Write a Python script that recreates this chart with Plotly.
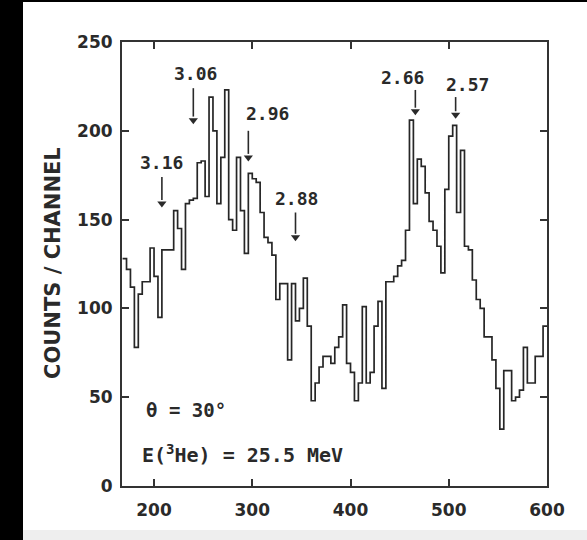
import numpy as np
import plotly.graph_objects as go

# ---- data -------------------------------------------------------------
channel_start = 168
bin_width = 4
counts = [128, 122, 112, 78, 108, 115, 115, 134, 118, 95,
          133, 133, 133, 155, 145, 122, 159, 161, 162, 182,
          183, 163, 219, 200, 159, 185, 223, 150, 144, 185,
          155, 131, 176, 173, 171, 154, 140, 137, 130, 105,
          114, 114, 71, 114, 93, 100, 117, 90, 48, 58,
          67, 73, 73, 69, 78, 84, 102, 69, 64, 48,
          58, 101, 58, 64, 90, 104, 55, 115, 115, 118,
          124, 127, 144, 206, 159, 184, 180, 165, 149, 144,
          135, 120, 167, 197, 203, 154, 189, 135, 133, 116,
          105, 100, 84, 84, 71, 55, 32, 65, 65, 48,
          50, 54, 78, 58, 58, 73, 73, 90]

peak_labels = ["3.16", "3.06", "2.96", "2.88", "2.66", "2.57"]
label_x = [208, 242, 315, 345, 453, 519]
label_y = [182, 232, 210, 162, 230, 226]
arrow_x = [208, 240, 296, 344, 466, 507]
arrow_tail = [174, 224, 200, 154, 223, 219]
arrow_tip = [159, 206, 185, 140, 211, 209]

x_ticks = [200, 300, 400, 500, 600]
y_ticks = [0, 50, 100, 150, 200, 250]

# ---- figure -------------------------------------------------------------
edges = channel_start + bin_width * np.arange(len(counts) + 1)
yvals = counts + [counts[-1]]

W, H = 587, 540
ML, MR, MT, MB = 122, 40, 42, 54
PW, PH = W - ML - MR, H - MT - MB
ink = "#2a2a2a"

fig = go.Figure()
fig.add_trace(go.Scatter(x=edges, y=yvals, mode="lines", line_shape="hv",
                         line=dict(color="#262626", width=1.7),
                         hoverinfo="skip", showlegend=False))

# arrow shafts
shaft_x, shaft_y = [], []
for axx, tail, tip in zip(arrow_x, arrow_tail, arrow_tip):
    shaft_x += [axx, axx, None]
    shaft_y += [tail, tip + 2, None]
fig.add_trace(go.Scatter(x=shaft_x, y=shaft_y, mode="lines",
                         line=dict(color=ink, width=1.6),
                         hoverinfo="skip", showlegend=False))
# arrow heads
fig.add_trace(go.Scatter(x=arrow_x, y=arrow_tip, mode="markers",
                         marker=dict(symbol="triangle-down", size=8, color=ink,
                                     line_width=0),
                         hoverinfo="skip", showlegend=False))

for t, lx, ly in zip(peak_labels, label_x, label_y):
    fig.add_annotation(x=lx, y=ly, text=t, showarrow=False,
                       font=dict(family="DejaVu Sans Mono", size=18, color=ink,
                                 weight="bold"),
                       xanchor="center", yanchor="middle")

fig.add_annotation(xref="paper", yref="paper",
                   x=(186 - ML) / PW, y=(H - MB - 410) / PH,
                   text="θ = 30°", showarrow=False,
                   font=dict(family="DejaVu Sans Mono", size=19, color=ink,
                             weight="bold"),
                   xanchor="center", yanchor="middle")
fig.add_annotation(xref="paper", yref="paper",
                   x=(140 - ML) / PW, y=(H - MB - 454) / PH,
                   text="E(<sup>3</sup>He) = 25.5 MeV", showarrow=False,
                   font=dict(family="DejaVu Sans Mono", size=20, color=ink,
                             weight="bold"),
                   xanchor="left", yanchor="middle")
fig.add_annotation(xref="paper", yref="paper",
                   x=(53 - ML) / PW, y=(H - MB - 263) / PH,
                   text="COUNTS / CHANNEL", textangle=-90, showarrow=False,
                   font=dict(family="DejaVu Sans", size=21, color=ink, weight="bold"),
                   xanchor="center", yanchor="middle")

# scan border strips
fig.add_shape(type="rect", xref="paper", yref="paper",
              x0=(0 - ML) / PW, x1=(23 - ML) / PW,
              y0=(H - MB - H) / PH, y1=(H - MB) / PH,
              fillcolor="black", line_width=0, layer="above")
fig.add_shape(type="rect", xref="paper", yref="paper",
              x0=(0 - ML) / PW, x1=(W - ML) / PW,
              y0=(H - MB - 2) / PH, y1=(H - MB) / PH,
              fillcolor="black", line_width=0, layer="above")
fig.add_shape(type="rect", xref="paper", yref="paper",
              x0=(23 - ML) / PW, x1=(W - ML) / PW,
              y0=(H - MB - H) / PH, y1=(H - MB - 530) / PH,
              fillcolor="#eeeeee", line_width=0, layer="above")

axis_font = dict(family="DejaVu Sans", size=17, color=ink, weight="bold")
fig.update_xaxes(range=[167.4, 600], tickvals=x_ticks, ticks="inside",
                 ticklen=7, tickwidth=2, tickcolor="#333",
                 showline=True, linecolor="#333", linewidth=2, mirror="ticks",
                 showgrid=False, zeroline=False, tickfont=axis_font,
                 ticklabelstandoff=8)
fig.update_yaxes(range=[0, 250], tickvals=y_ticks, ticks="inside",
                 ticklen=7, tickwidth=2, tickcolor="#333",
                 showline=True, linecolor="#333", linewidth=2, mirror="ticks",
                 showgrid=False, zeroline=False, tickfont=axis_font,
                 ticklabelstandoff=4)

fig.update_layout(width=W, height=H, margin=dict(l=ML, r=MR, t=MT, b=MB),
                  paper_bgcolor="white", plot_bgcolor="white", showlegend=False)

fig.write_html("out.html")
